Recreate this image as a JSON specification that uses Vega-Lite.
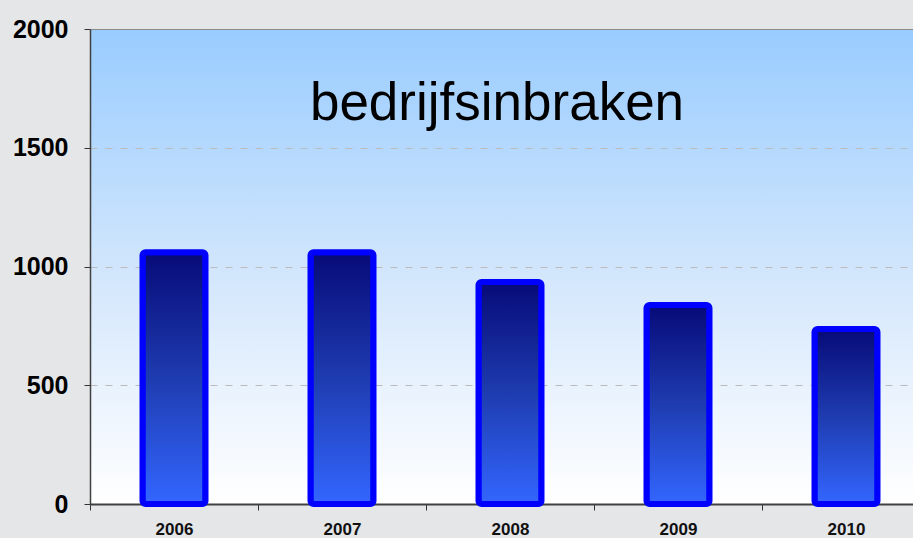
{
  "$schema": "https://vega.github.io/schema/vega-lite/v6.json",
  "autosize": {"type": "none"},
  "padding": {"left": 90, "top": 29, "right": 0, "bottom": 34},
  "width": 840,
  "height": 475,
  "background": "#E4E6E8",
  "title": {
    "text": "bedrijfsinbraken",
    "orient": "top",
    "anchor": "middle",
    "offset": -156,
    "baseline": "alphabetic",
    "dx": -13,
    "font": "Liberation Sans",
    "fontSize": 53,
    "fontWeight": "normal",
    "color": "#000000"
  },
  "config": {
    "view": {
      "stroke": "#8A8A8A",
      "strokeWidth": 1,
      "fill": {
        "gradient": "linear",
        "x1": 0, "y1": 0, "x2": 0, "y2": 1,
        "stops": [
          {"offset": 0, "color": "#99CCFF"},
          {"offset": 0.55, "color": "#D6E8FC"},
          {"offset": 1, "color": "#FFFFFF"}
        ]
      }
    }
  },
  "data": {
    "values": [
      {"jaar": "2006", "aantal": 1060},
      {"jaar": "2007", "aantal": 1060},
      {"jaar": "2008", "aantal": 935},
      {"jaar": "2009", "aantal": 838},
      {"jaar": "2010", "aantal": 737}
    ]
  },
  "mark": {
    "type": "bar",
    "size": 63,
    "stroke": "#0000FF",
    "strokeWidth": 6,
    "cornerRadius": 3,
    "fill": {
      "gradient": "linear",
      "x1": 0, "y1": 0, "x2": 0, "y2": 1,
      "stops": [
        {"offset": 0, "color": "#070A78"},
        {"offset": 0.5, "color": "#1E3CB0"},
        {"offset": 1, "color": "#3366FF"}
      ]
    }
  },
  "encoding": {
    "x": {
      "field": "jaar",
      "type": "ordinal",
      "title": null,
      "scale": {"paddingInner": 0, "paddingOuter": 0},
      "axis": {
        "labelAngle": 0,
        "labelFont": "Liberation Sans",
        "labelFontSize": 17,
        "labelFontWeight": "bold",
        "labelColor": "#111111",
        "labelPadding": 11,
        "tickBand": "extent",
        "tickSize": 6,
        "tickColor": "#333333",
        "domainColor": "#404040",
        "domainWidth": 2
      }
    },
    "y": {
      "field": "aantal",
      "type": "quantitative",
      "title": null,
      "scale": {"domain": [0, 2000], "nice": false},
      "axis": {
        "values": [0, 500, 1000, 1500, 2000],
        "format": "d",
        "labelFont": "Liberation Sans",
        "labelFontSize": 25,
        "labelFontWeight": "bold",
        "labelColor": "#000000",
        "labelPadding": 16,
        "tickSize": 6,
        "tickColor": "#333333",
        "domainColor": "#404040",
        "domainWidth": 1.5,
        "gridColor": "#BBBBBB",
        "gridDash": [7, 8],
        "gridWidth": 1,
        "gridOpacity": {"condition": {"test": "datum.value >= 2000", "value": 0}, "value": 1}
      }
    }
  }
}
